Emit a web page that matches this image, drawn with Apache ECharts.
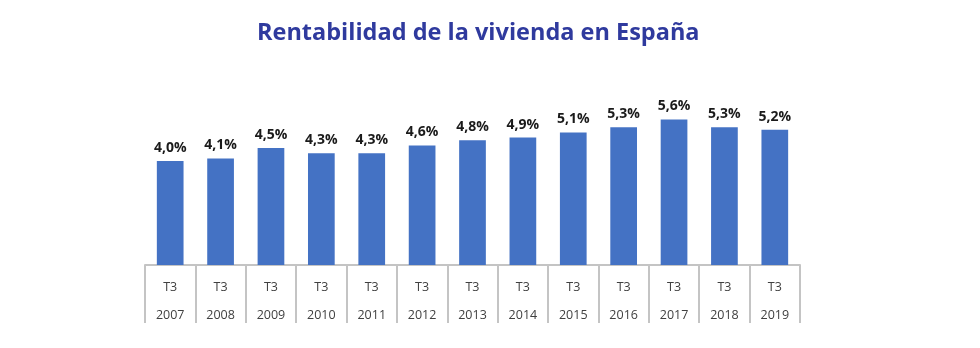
<!DOCTYPE html>
<html><head><meta charset="utf-8">
<script src="https://cdn.jsdelivr.net/npm/echarts@6/dist/echarts.min.js"></script>
<style>html,body{margin:0;padding:0;background:#fff}#c{width:980px;height:348px}</style>
</head><body><div id="c"></div>
<script>
const quarters = ["T3","T3","T3","T3","T3","T3","T3","T3","T3","T3","T3","T3","T3"];
const years = ["2007","2008","2009","2010","2011","2012","2013","2014","2015","2016","2017","2018","2019"];
const rentabilidad = [4.0,4.1,4.5,4.3,4.3,4.6,4.8,4.9,5.1,5.3,5.6,5.3,5.2];
const categories = years.map((y,i)=>quarters[i]+"\n"+y);
const chart = echarts.init(document.getElementById('c'));
chart.setOption({
  animation:false,
  title:{text:"Rentabilidad de la vivienda en España",left:252,top:16,
    textStyle:{fontFamily:'Open Sans',fontWeight:'bold',fontSize:23.5,color:'#2f3a9e'}},
  grid:{left:145,right:180,top:109,bottom:83,containLabel:false,outerBoundsMode:'none'},
  xAxis:{type:'category',data:categories,
    axisLine:{lineStyle:{color:'#c4c4c4',width:2}},
    axisTick:{show:true,interval:0,length:58,lineStyle:{color:'#c4c4c4',width:2}},
    axisLabel:{interval:0,color:'#404040',fontFamily:'Open Sans',fontSize:12.5,lineHeight:28,margin:8}},
  yAxis:{type:'value',min:0,max:6,show:false,splitLine:{show:false}},
  series:[{type:'bar',data:rentabilidad,barWidth:'53%',
    itemStyle:{color:'#4472c4'},
    label:{show:true,position:'top',distance:6,fontFamily:'Open Sans',fontWeight:'bold',fontSize:14,color:'#1a1a1a',
      formatter:p=>p.value.toFixed(1).replace('.',',')+'%'}}]
});
</script></body></html>
